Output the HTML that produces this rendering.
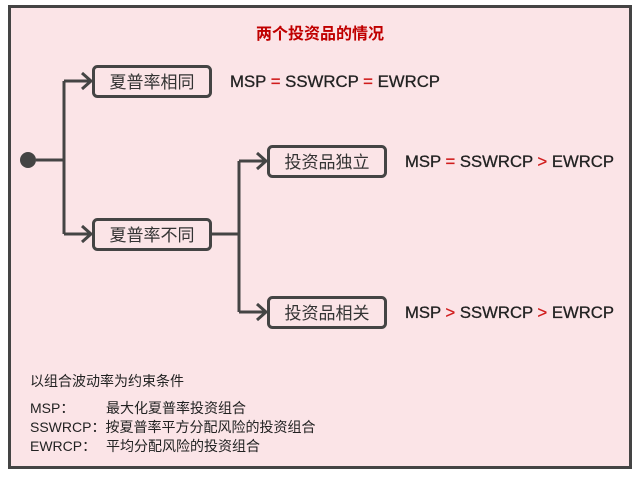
<!DOCTYPE html>
<html><head><meta charset="utf-8"><style>
body{margin:0;width:640px;height:475px;background:#fff;overflow:hidden}
</style></head><body>
<svg width="640" height="475" xmlns="http://www.w3.org/2000/svg" font-family="Liberation Sans, Noto Sans CJK SC, sans-serif">
<rect x="9.5" y="6.5" width="621" height="461" fill="#fbe4e7" stroke="#444" stroke-width="3"/>
<text x="320" y="39" text-anchor="middle" font-size="16" font-weight="bold" fill="#c00000">两个投资品的情况</text>
<g stroke="#444" stroke-width="3" fill="none">
<path d="M36 160H64M64 81V234M64 81H90M64 234H90"/>
<path d="M82 73L91 81L82 89M82 226L91 234L82 242"/>
<path d="M211 234H239M239 161V312M239 161H266M239 312H266"/>
<path d="M257 153L266 161L257 169M257 304L266 312L257 320"/>
<rect x="93.5" y="66.5" width="117" height="30" rx="4"/>
<rect x="93.5" y="219.5" width="117" height="30" rx="4"/>
<rect x="268.5" y="146.5" width="117" height="30" rx="4"/>
<rect x="268.5" y="297.5" width="117" height="30" rx="4"/>
</g>
<circle cx="28" cy="160" r="8" fill="#444"/>
<g font-size="17" fill="#333" text-anchor="middle">
<text x="152" y="88">夏普率相同</text>
<text x="152" y="241">夏普率不同</text>
<text x="327" y="168">投资品独立</text>
<text x="327" y="319">投资品相关</text>
</g>
<g font-size="17" fill="#222" stroke="#222" stroke-width="0.3">
<text x="230" y="87" textLength="210" lengthAdjust="spacingAndGlyphs">MSP <tspan fill="#d01c1c" stroke="#d01c1c">=</tspan> SSWRCP <tspan fill="#d01c1c" stroke="#d01c1c">=</tspan> EWRCP</text>
<text x="405" y="167" textLength="209" lengthAdjust="spacingAndGlyphs">MSP <tspan fill="#d01c1c" stroke="#d01c1c">=</tspan> SSWRCP <tspan fill="#d01c1c" stroke="#d01c1c">&gt;</tspan> EWRCP</text>
<text x="405" y="318" textLength="209" lengthAdjust="spacingAndGlyphs">MSP <tspan fill="#d01c1c" stroke="#d01c1c">&gt;</tspan> SSWRCP <tspan fill="#d01c1c" stroke="#d01c1c">&gt;</tspan> EWRCP</text>
</g>
<g font-size="14" fill="#222">
<text x="30" y="386">以组合波动率为约束条件</text>
<text x="30" y="413">MSP：</text><text x="106" y="413">最大化夏普率投资组合</text>
<text x="30" y="432">SSWRCP：按夏普率平方分配风险的投资组合</text>
<text x="30" y="451">EWRCP：</text><text x="106" y="451">平均分配风险的投资组合</text>
</g>
</svg>
</body></html>
